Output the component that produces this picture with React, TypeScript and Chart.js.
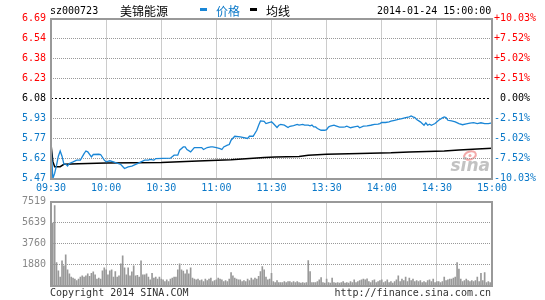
import React, { useEffect, useRef } from 'react';
import { Chart, registerables } from 'chart.js';

Chart.register(...registerables);

// ---------- text ----------
const STOCK_CODE = 'sz000723';
const STOCK_NAME = '美锦能源';
const LEGEND_PRICE = '价格';
const LEGEND_AVG = '均线';
const DATE_TIME = '2014-01-24 15:00:00';
const COPYRIGHT = 'Copyright 2014 SINA.COM';
const SOURCE_URL = 'http://finance.sina.com.cn';
const WATERMARK = 'sina';

// ---------- axes ----------
const PREV_CLOSE = 6.08;
const PRICE_TICKS = [5.47, 5.62, 5.77, 5.93, 6.08, 6.23, 6.38, 6.54, 6.69];
const PCT_TICKS = [-10.03, -7.52, -5.02, -2.51, 0, 2.51, 5.02, 7.52, 10.03];
const TIME_TICKS = [0, 30, 60, 90, 120, 150, 180, 210, 240];
const TIME_LABELS = ['09:30', '10:00', '10:30', '11:00', '11:30', '13:30', '14:00', '14:30', '15:00'];
const VOL_TICKS = [0, 1880, 3760, 5639, 7519];

// ---------- price series (minute index since 09:30, price) ----------
const PRICE_MIN = [
  0, 1, 2, 3, 4, 5, 6, 7, 8, 9, 10, 12, 14, 16, 18, 19, 20, 22, 23, 26, 27, 29, 30, 32, 34, 38, 40, 42, 44, 47, 49, 51, 53, 54, 56,
  57, 65, 67, 69, 70, 72, 73, 74, 76, 78, 82, 83, 85, 87, 88, 90, 92, 93, 94, 96, 97, 98, 100, 103, 107, 108, 110, 112, 113, 114, 116,
  117, 119, 120, 121, 123, 124, 125, 127, 129, 130, 132, 134, 135, 137, 138, 140, 141, 142, 143, 144, 145, 147, 149, 150, 151, 152,
  154, 155, 157, 159, 160, 161, 163, 165, 167, 168, 170, 172, 174, 176, 178, 179, 180, 182, 184, 185, 187, 189, 191, 193, 195, 196,
  197, 198, 199, 201, 202, 203, 204, 205, 206, 207, 209, 211, 213, 214, 215, 216, 218, 220, 222, 224, 226, 228, 230, 232, 234, 236,
  238, 240,
];
const PRICE_VAL = [
  5.73, 5.47, 5.51, 5.57, 5.64, 5.68, 5.64, 5.58, 5.58, 5.565, 5.585, 5.597, 5.61, 5.61, 5.66, 5.68, 5.673, 5.635, 5.653, 5.655, 5.653,
  5.61, 5.597, 5.605, 5.597, 5.577, 5.546, 5.559, 5.564, 5.584, 5.597, 5.61, 5.61, 5.615, 5.61,
  5.622, 5.625, 5.648, 5.648, 5.686, 5.711, 5.711, 5.691, 5.673, 5.706, 5.706, 5.691, 5.706, 5.711, 5.711, 5.706, 5.698, 5.691, 5.711,
  5.724, 5.729, 5.762, 5.792, 5.787, 5.775, 5.792, 5.792, 5.838, 5.876, 5.909, 5.906,
  5.889, 5.897, 5.902, 5.889, 5.859, 5.876, 5.882, 5.877, 5.859, 5.868, 5.874, 5.882, 5.877, 5.882, 5.877, 5.877, 5.872, 5.877, 5.863,
  5.863, 5.851, 5.838, 5.838, 5.843, 5.862, 5.87,
  5.877, 5.872, 5.861, 5.861, 5.864, 5.869, 5.857, 5.864, 5.869, 5.857, 5.869, 5.872, 5.876, 5.882, 5.884, 5.889, 5.897, 5.897, 5.902,
  5.907, 5.914, 5.92, 5.927, 5.935, 5.94, 5.947,
  5.94, 5.935, 5.92, 5.902, 5.889, 5.876, 5.894, 5.876, 5.884, 5.876, 5.889, 5.914, 5.932, 5.94, 5.935, 5.914, 5.909, 5.902, 5.888,
  5.88, 5.886, 5.892, 5.896, 5.889, 5.895, 5.889, 5.889, 5.895,
];

// ---------- average price series ----------
const AVG_MIN = [0, 1, 2, 5, 7, 15, 30, 60, 70, 80, 98, 108, 116, 122, 135, 140, 150, 168, 185, 195, 214, 222, 232, 240];
const AVG_VAL = [
  5.73, 5.6, 5.56, 5.56, 5.578, 5.583, 5.588, 5.592, 5.597, 5.604, 5.613, 5.622, 5.63, 5.633, 5.638, 5.648, 5.654, 5.66, 5.666,
  5.673, 5.68, 5.688, 5.695, 5.7,
];

// ---------- volume per minute (241 minutes) ----------
const VOLUME = [
  3000,
  5580, 7160, 2060, 1310, 750, 2210, 1760, 2740, 1400, 1040,
  750, 660, 570, 450, 570, 750, 870, 750, 870, 1040,
  810, 1100, 1220, 950, 570, 660, 570, 1310, 1580, 1400,
  950, 1310, 1400, 750, 1250, 750, 870, 1940, 2650, 1580,
  950, 1580, 870, 1220, 1760, 870, 920, 750, 2210, 950,
  950, 1040, 750, 510, 1100, 660, 750, 570, 750, 570,
  510, 360, 510, 360, 570, 660, 750, 750, 1400, 1940,
  1400, 1280, 1040, 1400, 1040, 1580, 660, 570, 510, 570,
  450, 510, 360, 570, 450, 570, 660, 360, 450,
  510, 660, 570, 510, 360, 450, 360, 570, 1160, 870,
  660, 570, 510,
  510, 360, 450, 360, 570, 450, 660, 510, 660, 570,
  810, 1250, 1700, 1400, 750, 510, 570, 1100,
  360, 270, 450, 270, 270, 270, 360, 270, 360, 360,
  270, 360, 270, 360, 270, 210, 270, 210, 270,
  2240, 1250,
  270, 270, 270, 360,
  510, 720, 270, 210, 570,
  270, 210, 660, 270, 210, 270, 210, 270, 360, 210,
  270, 210, 360, 270, 510, 270, 360, 450, 510, 570,
  510, 600, 360, 270, 450, 510, 270, 360, 450, 510,
  270, 360, 510, 270, 360, 210, 360, 510, 870, 360,
  570, 450, 750, 360, 660, 450, 570, 360, 450, 360,
  450, 270, 360, 270, 450, 510, 360, 570, 270, 360,
  360, 270, 360, 750, 450, 510, 570, 570, 660, 750,
  2060, 1460, 570, 360, 450, 570, 450, 360, 450, 360,
  450, 750, 360, 1100, 450, 1160, 270, 360, 270, 270,
];

// ---------- styles ----------
const MONO = '"DejaVu Sans Mono", "Liberation Mono", monospace';
const CJK = '"Noto Sans CJK SC", sans-serif';
const RED = '#ff0000';
const BLUE_TEXT = '#0a78c8';
const BLUE_LINE = '#1a86d6';
const GRID = '#999999';
const FRAME = '#999999';
const VOL_TEXT = '#888888';

const P_MIN = PRICE_TICKS[0];
const P_MAX = PRICE_TICKS[PRICE_TICKS.length - 1];
const P_POS = PRICE_TICKS.map((_, k) => P_MIN + (k * (P_MAX - P_MIN)) / (PRICE_TICKS.length - 1));
const REF_INDEX = PRICE_TICKS.indexOf(PREV_CLOSE);

function framePlugin(id: string, watermark: boolean) {
  return {
    id,
    beforeDatasetsDraw(chart: any) {
      if (!watermark) return;
      const { ctx, chartArea: a } = chart;
      ctx.save();
      ctx.setLineDash([]);
      ctx.strokeStyle = '#f3a9a9';
      ctx.lineWidth = 2;
      ctx.beginPath();
      ctx.ellipse(a.right - 22, a.bottom - 23, 6, 4, -0.3, 0, Math.PI * 2);
      ctx.stroke();
      ctx.fillStyle = '#f3a9a9';
      ctx.beginPath();
      ctx.arc(a.right - 22, a.bottom - 23, 1.5, 0, Math.PI * 2);
      ctx.fill();
      ctx.fillStyle = '#c2c2c2';
      ctx.font = 'italic bold 17px "DejaVu Sans", sans-serif';
      ctx.textAlign = 'right';
      ctx.textBaseline = 'alphabetic';
      ctx.fillText(WATERMARK, a.right - 2, a.bottom - 8);
      ctx.restore();
    },
    afterDatasetsDraw(chart: any) {
      const { ctx, chartArea: a } = chart;
      ctx.save();
      ctx.strokeStyle = FRAME;
      ctx.lineWidth = 2;
      ctx.setLineDash([]);
      ctx.strokeRect(Math.round(a.left), Math.floor(a.top) + 1, Math.round(a.right - a.left), Math.round(a.bottom - a.top));
      ctx.restore();
    },
  };
}

const tickFont = { family: MONO, size: 10 };

function hLine(y: number, color: string, dash: number[], yAxisID: string) {
  return {
    type: 'line',
    label: 'grid',
    yAxisID,
    data: [
      { x: TIME_TICKS[0], y },
      { x: TIME_TICKS[TIME_TICKS.length - 1], y },
    ],
    borderColor: color,
    borderWidth: 1,
    borderDash: dash,
    pointRadius: 0,
    tension: 0,
    fill: false,
    order: 10,
  };
}

export default function App() {
  const priceRef = useRef<HTMLCanvasElement>(null);
  const volRef = useRef<HTMLCanvasElement>(null);

  useEffect(() => {
    const priceGrid = P_POS.filter((_, k) => k > 0 && k < P_POS.length - 1).map((v) =>
      Math.abs(v - P_POS[REF_INDEX]) < 1e-9 ? hLine(v, '#000000', [2, 2], 'y') : hLine(v, GRID, [1, 1], 'y'),
    );
    const volGrid = VOL_TICKS.filter((_, k) => k > 0 && k < VOL_TICKS.length - 1).map((v) => hLine(v, GRID, [1, 1], 'y'));

    const priceChart = new Chart(priceRef.current as HTMLCanvasElement, {
      type: 'line',
      data: {
        datasets: [
          {
            label: LEGEND_PRICE,
            yAxisID: 'y',
            data: PRICE_MIN.map((m, i) => ({ x: m, y: PRICE_VAL[i] })),
            borderColor: BLUE_LINE,
            borderWidth: 1.3,
            pointRadius: 0,
            tension: 0,
            order: 0,
          },
          {
            label: LEGEND_AVG,
            yAxisID: 'y',
            data: AVG_MIN.map((m, i) => ({ x: m, y: AVG_VAL[i] })),
            borderColor: '#000000',
            borderWidth: 1.5,
            pointRadius: 0,
            tension: 0,
            order: 1,
          },
          ...priceGrid,
        ],
      },
      options: {
        animation: false,
        responsive: false,
        maintainAspectRatio: false,
        events: [],
        layout: { padding: { top: 18.5, left: 0, right: 0, bottom: 0 } },
        plugins: { legend: { display: false }, tooltip: { enabled: false }, title: { display: false } },
        scales: {
          x: {
            type: 'linear',
            min: TIME_TICKS[0],
            max: TIME_TICKS[TIME_TICKS.length - 1],
            grid: { display: true, drawTicks: false, color: GRID, lineWidth: 1 },
            border: { display: false, dash: [1, 1] },
            afterBuildTicks: (s: any) => {
              s.ticks = TIME_TICKS.map((v) => ({ value: v }));
            },
            afterFit: (s: any) => {
              s.height = 19.5;
            },
            ticks: {
              autoSkip: false,
              maxRotation: 0,
              minRotation: 0,
              padding: 4,
              color: BLUE_TEXT,
              font: tickFont,
              callback: (_v: any, i: number) => TIME_LABELS[i],
            },
          },
          y: {
            type: 'linear',
            position: 'left',
            min: P_MIN,
            max: P_MAX,
            grid: { display: false, drawTicks: false },
            border: { display: false },
            afterBuildTicks: (s: any) => {
              s.ticks = P_POS.map((v) => ({ value: v }));
            },
            afterFit: (s: any) => {
              s.width = 51;
            },
            ticks: {
              autoSkip: false,
              padding: 5,
              font: tickFont,
              color: (c: any) => (c.index > REF_INDEX ? RED : c.index < REF_INDEX ? BLUE_TEXT : '#000000'),
              callback: (_v: any, i: number) => PRICE_TICKS[i].toFixed(2),
            },
          },
          yPct: {
            type: 'linear',
            position: 'right',
            min: PCT_TICKS[0],
            max: PCT_TICKS[PCT_TICKS.length - 1],
            grid: { display: false, drawTicks: false },
            border: { display: false },
            afterBuildTicks: (s: any) => {
              s.ticks = PCT_TICKS.map((v) => ({ value: v }));
            },
            afterFit: (s: any) => {
              s.width = 53;
            },
            ticks: {
              autoSkip: false,
              padding: 2,
              crossAlign: 'near',
              font: tickFont,
              color: (c: any) => {
                const v = c.tick ? c.tick.value : 0;
                return v > 0 ? RED : v < 0 ? BLUE_TEXT : '#000000';
              },
              callback: (v: any) => {
                const n = Number(v);
                if (n > 0) return '+' + n.toFixed(2) + '%';
                if (n < 0) return n.toFixed(2) + '%';
                return ' 0.00%';
              },
            },
          },
        },
      },
      plugins: [framePlugin('priceFrame', true)],
    } as any);

    const volChart = new Chart(volRef.current as HTMLCanvasElement, {
      type: 'bar',
      data: {
        datasets: [
          {
            type: 'bar',
            label: 'volume',
            yAxisID: 'y',
            data: VOLUME.map((v, i) => ({ x: i, y: v })),
            backgroundColor: '#999999',
            borderWidth: 0,
            barThickness: 1,
            order: 0,
          },
          ...volGrid,
        ],
      },
      options: {
        animation: false,
        responsive: false,
        maintainAspectRatio: false,
        events: [],
        layout: { padding: { top: 15.5, left: 0, right: 53, bottom: 0 } },
        plugins: { legend: { display: false }, tooltip: { enabled: false } },
        scales: {
          x: {
            type: 'linear',
            min: TIME_TICKS[0],
            max: TIME_TICKS[TIME_TICKS.length - 1],
            offset: false,
            grid: { display: true, drawTicks: false, offset: false, color: GRID, lineWidth: 1 },
            border: { display: false, dash: [1, 1] },
            afterBuildTicks: (s: any) => {
              s.ticks = TIME_TICKS.map((v) => ({ value: v }));
            },
            ticks: { display: false },
            afterFit: (s: any) => {
              s.height = 14.5;
            },
          },
          y: {
            type: 'linear',
            position: 'left',
            min: VOL_TICKS[0],
            max: VOL_TICKS[VOL_TICKS.length - 1],
            grid: { display: false, drawTicks: false },
            border: { display: false },
            afterBuildTicks: (s: any) => {
              s.ticks = VOL_TICKS.map((v) => ({ value: v }));
            },
            afterFit: (s: any) => {
              s.width = 51;
            },
            ticks: {
              autoSkip: false,
              padding: 5,
              font: tickFont,
              color: VOL_TEXT,
              callback: (v: any) => (Number(v) === 0 ? '' : String(v)),
            },
          },
        },
      },
      plugins: [framePlugin('volFrame', false)],
    } as any);

    return () => {
      priceChart.destroy();
      volChart.destroy();
    };
  }, []);

  const txt = (left: number, top: number, extra: React.CSSProperties = {}): React.CSSProperties => ({
    position: 'absolute',
    left,
    top,
    font: `10px ${MONO}`,
    lineHeight: '12px',
    whiteSpace: 'pre',
    color: '#000',
    margin: 0,
    ...extra,
  });

  return (
    <div style={{ position: 'absolute', left: 0, top: 0, width: 545, height: 300, background: '#fff', overflow: 'hidden' }}>
      <canvas ref={priceRef} width={545} height={198} style={{ position: 'absolute', left: 0, top: 0, width: 545, height: 198 }} />
      <canvas ref={volRef} width={545} height={114} style={{ position: 'absolute', left: 0, top: 186, width: 545, height: 114 }} />
      <div style={txt(50, 5)}>{STOCK_CODE}</div>
      <div style={txt(120, 4, { font: `12px ${CJK}`, lineHeight: '14px' })}>{STOCK_NAME}</div>
      <div style={{ position: 'absolute', left: 200, top: 8, width: 7, height: 3, background: BLUE_LINE }} />
      <div style={txt(216, 4, { font: `12px ${CJK}`, lineHeight: '14px', color: BLUE_TEXT })}>{LEGEND_PRICE}</div>
      <div style={{ position: 'absolute', left: 250, top: 8, width: 7, height: 3, background: '#000' }} />
      <div style={txt(266, 4, { font: `12px ${CJK}`, lineHeight: '14px' })}>{LEGEND_AVG}</div>
      <div style={txt(377, 5)}>{DATE_TIME}</div>
      <div style={txt(50, 287, { color: '#333' })}>{COPYRIGHT}</div>
      <div style={txt(0, 287, { left: 'auto', right: 54, color: '#333', textAlign: 'right' })}>{SOURCE_URL}</div>
    </div>
  );
}
